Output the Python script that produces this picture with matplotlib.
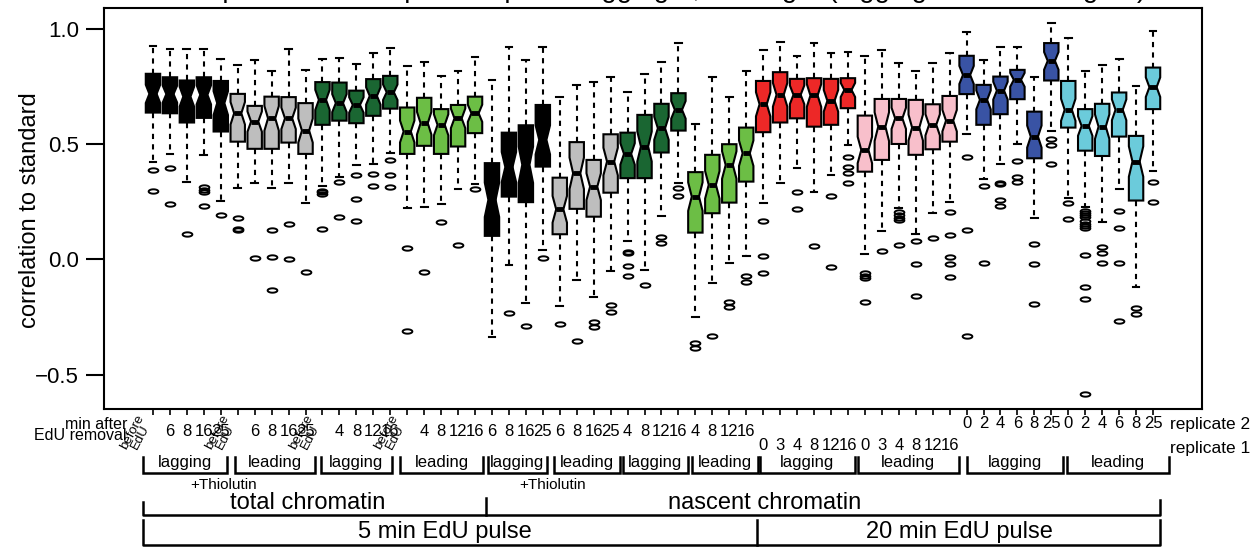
import matplotlib
matplotlib.use("Agg")
import matplotlib.pyplot as plt
import numpy as np
from matplotlib.path import Path
from matplotlib.transforms import blended_transform_factory

# ============================
# DATA
# ============================
group_sizes = [5, 5, 5, 5, 4, 4, 4, 4, 6, 6, 6, 6]
group_colors = ["#000000", "#BEBEBE", "#1A6632", "#6CBE45",
                "#000000", "#BEBEBE", "#1A6632", "#6CBE45",
                "#ED2827", "#F8BFCB", "#3953A4", "#6BCBDB"]
group_names = ["lagging", "leading", "lagging", "leading",
               "lagging", "leading", "lagging", "leading",
               "lagging", "leading", "lagging", "leading"]

time_labels = ["before\nEdU", "6", "8", "16", "25",
               "before\nEdU", "6", "8", "16", "25",
               "before\nEdU", "4", "8", "12", "16",
               "before\nEdU", "4", "8", "12", "16",
               "6", "8", "16", "25",
               "6", "8", "16", "25",
               "4", "8", "12", "16",
               "4", "8", "12", "16",
               "0", "3", "4", "8", "12", "16",
               "0", "3", "4", "8", "12", "16",
               "0", "2", "4", "6", "8", "25",
               "0", "2", "4", "6", "8", "25"]
# 2 = label sits on the "replicate 2" line, 1 = on the "replicate 1" line
label_row = [2] * 36 + [1] * 12 + [2] * 12

whishi = [.925, .912, .912, .910, .869, .843, .864, .818, .912, .821,
          .869, .872, .847, .896, .915, .838, .854, .795, .817, .876,
          .775, .922, .864, .922, .705, .756, .768, .789, .727, .804,
          .857, .937, .587, .789, .705, .817, .908, .941, .879, .937,
          .893, .898, .879, .905, .850, .817, .850, .896, .984, .864,
          .919, .922, .788, 1.023, .958, .818, .843, .867, .752, .990]
q3 = [.804, .789, .775, .789, .773, .717, .665, .705, .703, .677,
      .768, .766, .731, .781, .795, .658, .700, .651, .669, .705,
      .417, .549, .581, .669, .354, .508, .431, .542, .549, .626,
      .674, .720, .378, .453, .499, .571, .773, .811, .782, .785,
      .782, .785, .623, .695, .695, .691, .672, .708, .882, .756,
      .792, .821, .640, .937, .773, .651, .674, .723, .535, .831]
med = [.717, .716, .705, .713, .677, .633, .597, .611, .611, .558,
       .691, .677, .669, .708, .724, .554, .590, .583, .611, .633,
       .258, .400, .410, .518, .217, .373, .315, .424, .457, .489,
       .568, .648, .272, .323, .409, .460, .672, .713, .713, .710,
       .687, .734, .474, .575, .611, .571, .583, .601, .799, .691,
       .731, .778, .532, .860, .648, .578, .575, .648, .424, .746]
q1 = [.636, .633, .593, .613, .554, .510, .479, .479, .506, .457,
      .583, .601, .590, .622, .653, .457, .492, .457, .489, .547,
      .102, .272, .248, .402, .109, .219, .185, .289, .352, .352,
      .463, .558, .116, .200, .246, .337, .551, .593, .611, .575,
      .583, .655, .380, .431, .500, .453, .477, .510, .716, .583,
      .629, .694, .438, .775, .571, .471, .448, .532, .255, .651]
whislo = [.420, .457, .337, .453, .255, .308, .330, .311, .333, .246,
          .320, .359, .409, .412, .460, .222, .226, .239, .305, .327,
          -.334, -.024, -.187, .041, -.201, -.089, -.161, -.049, .080, -.045,
          .188, .333, -.250, -.103, -.016, .015, .243, .333, .395, .294,
          .366, .496, .023, .123, .222, .109, .203, .250, .542, .350,
          .412, .500, .178, .557, .265, .225, .164, .304, -.121, .383]
outliers = [
    [.388, .297], [.398, .239], [.110], [.313, .300, .290, .232], [.194],
    [.181, .130, .126], [.005], [.128, .012, -.132], [.154, .003], [-.054],
    [.296, .290, .283, .131], [.335, .185], [.366, .262, .166], [.370, .318],
    [.431, .366, .315],
    [.048, -.309], [-.053], [.164], [.063], [.305],
    [], [-.233], [-.287], [.005],
    [-.279], [-.352], [-.270, -.294], [-.198, -.226],
    [.033, .029, -.027, -.071], [-.112], [.096, .073], [.308, .275],
    [-.360, -.382], [-.330], [-.183, -.207], [-.071, -.096],
    [.168, .015, -.060], [], [.291, .217], [.056], [.276, -.034],
    [.445, .402, .376, .333],
    [-.060, -.070, -.079, -.183], [.038], [.207, .193, .181, .171, .063],
    [.080, -.021, -.158], [.092], [.204, .106, .012, -.019, -.075],
    [.445, .128, -.330], [.320, -.014], [.329, .325, .258, .233],
    [.425, .359, .334], [.067, -.021, -.192], [.521, .496, .412],
    [.246, .175],
    [.210, .200, .192, .185, .165, .155, .145, .135, .019, -.121, -.170, -.584],
    [.053, .029, -.014], [.210, .138, -.016, -.265], [-.211, -.236],
    [.337, .249]]
n_obs = 45  # samples per box, used for the notch width (R: 1.58*IQR/sqrt(n))

# ============================
# LAYOUT
# ============================
W, H = 1258, 550
plt.rcParams["font.family"] = ["Liberation Sans", "DejaVu Sans"]


def fy(ypx):
    return 1 - ypx / H


fig = plt.figure(figsize=(W / 100, H / 100), dpi=100)
ax = fig.add_axes([104 / W, fy(409), (1202 - 104) / W, (409 - 8) / H])
trans = blended_transform_factory(ax.transData, fig.transFigure)

positions = np.arange(1, len(med) + 1)
box_colors = [c for c, n in zip(group_colors, group_sizes) for _ in range(n)]

stats = []
for i in range(len(med)):
    ci = 1.58 * (q3[i] - q1[i]) / np.sqrt(n_obs)
    stats.append(dict(med=med[i], q1=q1[i], q3=q3[i],
                      whislo=whislo[i], whishi=whishi[i],
                      cilo=med[i] - ci, cihi=med[i] + ci,
                      fliers=np.array(outliers[i])))

t = np.linspace(0, 2 * np.pi, 41)
ellipse = Path(np.column_stack([np.cos(t), 0.45 * np.sin(t)]), closed=True)

bp = ax.bxp(stats, positions=positions, widths=0.85, capwidths=0.4,
            shownotches=True, patch_artist=True, showfliers=True,
            boxprops=dict(edgecolor="black", linewidth=1.5),
            whiskerprops=dict(color="black", linewidth=1.5,
                              linestyle=(0, (2.5, 2.5))),
            capprops=dict(color="black", linewidth=1.5),
            medianprops=dict(color="black", linewidth=3.5,
                             solid_capstyle="butt"),
            flierprops=dict(marker=ellipse, markersize=7,
                            markerfacecolor="none", markeredgecolor="black",
                            markeredgewidth=1.4, linestyle="none"))
for patch, col in zip(bp["boxes"], box_colors):
    patch.set_facecolor(col)

ax.set_xlim(-1.89, 62.89)
ax.set_ylim(-0.648, 1.089)
ax.set_yticks([-0.5, 0.0, 0.5, 1.0])
ax.set_yticklabels(["\u22120.5", "0.0", "0.5", "1.0"])
ax.set_xticks(positions)
ax.tick_params(axis="y", length=13, width=1.5, pad=5, labelsize=16)
ax.tick_params(axis="x", length=4.5, width=1.2, labelbottom=False)
for sp in ax.spines.values():
    sp.set_linewidth(1.5)

# y label and (cut off) title
fig.text(30 / W, fy(210), "correlation to standard", rotation=90,
         ha="center", va="center", fontsize=17)
fig.text(1146 / W, fy(-3), "sample correlation per timepoint: lagging 5, "
         "leading 5 (lagging 20 vs leading 20)",
         ha="right", va="baseline", fontsize=20)

# ============================
# X ANNOTATIONS
# ============================
for x, lab, row in zip(positions, time_labels, label_row):
    if lab.startswith("before"):
        ax.text(x + 0.1, fy(413), lab, transform=trans, rotation=62,
                ha="right", va="top", ma="center", fontsize=9.5,
                linespacing=0.72)
        continue
    if row == 2:
        ypx = 431 if x <= 36 else 424
    else:
        ypx = 446
    ax.text(x, fy(ypx), lab, transform=trans, ha="center", va="center",
            fontsize=12)

fig.text(127 / W, fy(430), "min after\nEdU removal", ha="right", va="center",
         fontsize=11.5, linespacing=0.72)
fig.text(1170 / W, fy(424), "replicate 2", ha="left", va="center", fontsize=12.5)
fig.text(1170 / W, fy(449), "replicate 1", ha="left", va="center", fontsize=12.5)

# strand brackets
strand_spans = [(0.41, 5.37), (5.84, 10.56), (10.91, 15.10), (15.57, 20.47),
                (20.76, 24.24), (24.66, 28.55), (28.73, 32.56), (32.80, 36.69),
                (36.81, 42.42), (42.59, 48.55), (49.02, 54.69), (54.93, 60.94)]
for (x0, x1), name in zip(strand_spans, group_names):
    ax.plot([x0, x0, x1, x1], [fy(457), fy(473), fy(473), fy(457)],
            transform=trans, color="black", lw=1.8, clip_on=False,
            solid_joinstyle="miter")
    ax.text((x0 + x1) / 2, fy(463), name, transform=trans, ha="center",
            va="center", fontsize=12)

for xt in (5.19, 24.6):
    ax.text(xt, fy(485), "+Thiolutin", transform=trans, ha="center",
            va="center", fontsize=11)

# chromatin brackets
ax.plot([0.41, 0.41, 60.41, 60.41], [fy(502), fy(515), fy(515), fy(500)],
        transform=trans, color="black", lw=1.8, clip_on=False)
ax.plot([20.65, 20.65], [fy(498), fy(515)], transform=trans, color="black",
        lw=1.8, clip_on=False)
ax.text(10.14, fy(503), "total chromatin", transform=trans, ha="center",
        va="center", fontsize=17)
ax.text(37.1, fy(503), "nascent chromatin", transform=trans, ha="center",
        va="center", fontsize=17)

# pulse brackets
ax.plot([0.41, 0.41, 60.41, 60.41], [fy(520), fy(545), fy(545), fy(520)],
        transform=trans, color="black", lw=1.8, clip_on=False)
ax.plot([36.63, 36.63], [fy(520), fy(545)], transform=trans, color="black",
        lw=1.8, clip_on=False)
ax.text(18.2, fy(532), "5 min EdU pulse", transform=trans, ha="center",
        va="center", fontsize=17)
ax.text(48.6, fy(532), "20 min EdU pulse", transform=trans, ha="center",
        va="center", fontsize=17)

fig.savefig("out.png", dpi=100)
